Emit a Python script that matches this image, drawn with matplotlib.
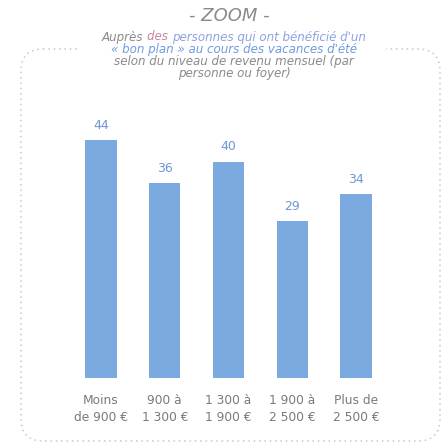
import matplotlib
matplotlib.use("Agg")
import matplotlib.pyplot as plt
from matplotlib.patches import FancyBboxPatch, Rectangle

categories = ["Moins\nde 900 €", "900 à\n1 300 €", "1 300 à\n1 900 €", "1 900 à\n2 500 €", "Plus de\n2 500 €"]
values = [44, 36, 40, 29, 34]

title = "- ZOOM -"
sub_line1 = [("Auprès ", "#8a8a8a"), ("des ", "#c9849e"), ("personnes qui ont bénéficié d'un", "#8fa2e0")]
sub_line2 = [("« bon plan » au cours des vacances d'été", "#6f9be0")]
sub_line3 = [("selon du niveau de revenu mensuel (par", "#8a8a8a")]
sub_line4 = [("personne ou foyer)", "#8a8a8a")]

FONT = "DejaVu Sans"
W, H = 443, 444
fig = plt.figure(figsize=(W / 100, H / 100), dpi=100)
fig.patch.set_facecolor("white")

# overlay axes in pixel coordinates
ov = fig.add_axes([0, 0, 1, 1], zorder=0)
ov.set_xlim(0, W)
ov.set_ylim(H, 0)
ov.axis("off")

border = FancyBboxPatch((21, 49), 419, 392, boxstyle="round,pad=0,rounding_size=22",
                        fill=False, edgecolor="#c8c8c8", linewidth=1.1,
                        linestyle=(0, (1, 2.5)), zorder=1)
ov.add_patch(border)
ov.add_patch(Rectangle((80, 38), 306, 24, facecolor="white", edgecolor="none", zorder=2))

ov.text(229, 16, title, ha="center", va="center", fontsize=13, style="italic",
        color="#8a8a8a", family=FONT, zorder=3)

renderer = fig.canvas.get_renderer()

def colored_line(parts, y, cx=234, fs=8.6):
    texts = []
    for s, c in parts:
        t = ov.text(0, y, s, ha="left", va="center", fontsize=fs, style="italic",
                    color=c, family=FONT, zorder=3)
        texts.append(t)
    widths = [t.get_window_extent(renderer=renderer).width for t in texts]
    total = sum(widths)
    x = cx - total / 2
    for t, w in zip(texts, widths):
        t.set_x(x)
        x += w

colored_line(sub_line1, 37)
colored_line(sub_line2, 49)
colored_line(sub_line3, 61)
colored_line(sub_line4, 73)

# main bar axes
bottom_px = 378
ppu = 5.41
ymax = 50
ax_h = ymax * ppu
spacing = 63.75
left_px = 101 - spacing / 2
ax = fig.add_axes([left_px / W, (H - bottom_px) / H, 5 * spacing / W, ax_h / H], zorder=5)
ax.patch.set_alpha(0)
x = list(range(len(values)))
bars = ax.bar(x, values, width=0.49, color="#7aaae0", zorder=2)
ax.set_xlim(-0.5, 4.5)
ax.set_ylim(0, ymax)
for xi, v in zip(x, values):
    ax.annotate(str(v), (xi, v), xytext=(0, 6), textcoords="offset points",
                ha="center", va="bottom", fontsize=9, color="#7096d4", family=FONT)
for s in ax.spines.values():
    s.set_visible(False)
ax.set_yticks([])
ax.set_xticks(x)
ax.set_xticklabels(categories, fontsize=8.8, color="#7a7a7a", family=FONT)
ax.tick_params(axis="x", length=0, pad=11.5)
for lbl in ax.get_xticklabels():
    lbl.set_linespacing(1.45)

fig.savefig("out.png", dpi=100, facecolor="white")
